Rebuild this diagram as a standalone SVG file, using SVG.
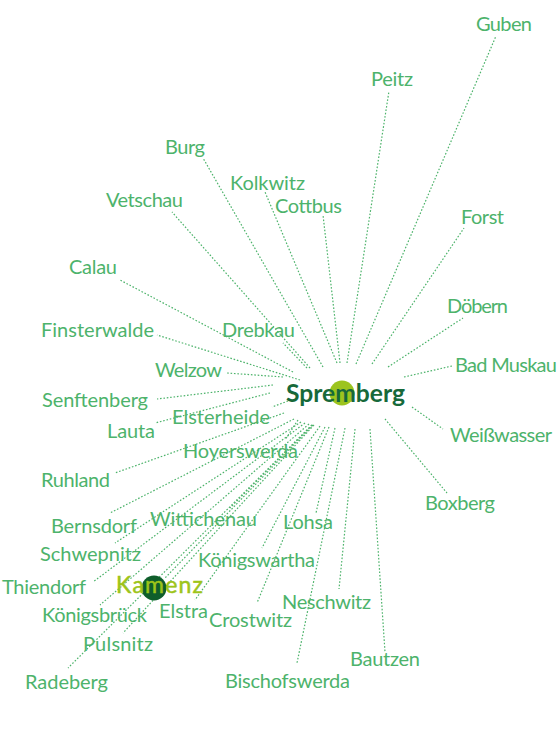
<svg xmlns="http://www.w3.org/2000/svg" width="557" height="736" viewBox="0 0 557 736">
<style>
.t{font-family:Lato,"Open Sans",sans-serif;font-size:20px;fill:#4db36b}
.c line{stroke:#4db36b;stroke-width:1.2;stroke-dasharray:1.6 1.8;fill:none}
</style>
<rect width="557" height="736" fill="#fff"/>
<g class="c" id="connectors">
<line x1="356" y1="364" x2="496" y2="36"/>
<line x1="347" y1="363" x2="389" y2="91"/>
<line x1="372" y1="364" x2="464" y2="228"/>
<line x1="388" y1="367" x2="463" y2="318"/>
<line x1="404" y1="377" x2="452" y2="366"/>
<line x1="412" y1="407" x2="443" y2="429"/>
<line x1="385" y1="419" x2="447" y2="493"/>
<line x1="370" y1="429" x2="385" y2="652"/>
<line x1="355" y1="429" x2="339" y2="589"/>
<line x1="345" y1="428" x2="297" y2="663"/>
<line x1="340" y1="363" x2="323" y2="215"/>
<line x1="337" y1="363" x2="265" y2="192"/>
<line x1="323" y1="367" x2="203" y2="158"/>
<line x1="310" y1="368" x2="172" y2="212"/>
<line x1="293" y1="372" x2="120" y2="280"/>
<line x1="307" y1="368" x2="283" y2="343"/>
<line x1="300" y1="380" x2="157" y2="335"/>
<line x1="283" y1="377" x2="227" y2="373"/>
<line x1="273" y1="385" x2="157" y2="399"/>
<line x1="270" y1="393" x2="155" y2="423"/>
<line x1="288" y1="401" x2="272" y2="407"/>
<line x1="284" y1="413" x2="115" y2="473"/>
<line x1="298" y1="420" x2="285" y2="440"/>
<line x1="294" y1="419" x2="110" y2="513"/>
<line x1="301" y1="422" x2="115" y2="543"/>
<line x1="305" y1="423" x2="93" y2="582"/>
<line x1="309" y1="424" x2="100" y2="605"/>
<line x1="312" y1="425" x2="68" y2="668"/>
<line x1="314" y1="425" x2="123" y2="633"/>
<line x1="313" y1="425" x2="165" y2="578"/>
<line x1="320" y1="426" x2="195" y2="600"/>
<line x1="312" y1="425" x2="230" y2="508"/>
<line x1="329" y1="427" x2="257" y2="603"/>
<line x1="325" y1="427" x2="262" y2="548"/>
<line x1="335" y1="428" x2="316" y2="513"/>
</g>
<g id="spremberg">
<circle cx="342" cy="393" r="12.5" fill="#9cc41e"/>
<text x="286" y="402" style="font-family:Lato,'Open Sans',sans-serif;font-weight:bold;font-size:24.5px;fill:#17693a" textLength="119" lengthAdjust="spacingAndGlyphs">Spremberg</text>
</g>
<g id="kamenz">
<circle cx="154" cy="588" r="12.5" fill="#0f5e2b"/>
<text x="116" y="593" style="font-family:Lato,'Open Sans',sans-serif;font-size:23px;fill:#9dc41a;stroke:#9dc41a;stroke-width:0.5" textLength="87">Kamenz</text>
</g>
<g id="guben"><text class="t" x="476" y="31" textLength="56">Guben</text></g>
<g id="peitz"><text class="t" x="371" y="86" textLength="42">Peitz</text></g>
<g id="burg"><text class="t" x="165" y="154" textLength="40">Burg</text></g>
<g id="kolkwitz"><text class="t" x="230" y="190" textLength="75">Kolkwitz</text></g>
<g id="cottbus"><text class="t" x="275" y="213" textLength="67">Cottbus</text></g>
<g id="vetschau"><text class="t" x="106" y="207" textLength="77">Vetschau</text></g>
<g id="forst"><text class="t" x="461" y="224" textLength="43">Forst</text></g>
<g id="calau"><text class="t" x="69" y="274" textLength="48">Calau</text></g>
<g id="doebern"><text class="t" x="447" y="313" textLength="61">Döbern</text></g>
<g id="finsterwalde"><text class="t" x="41" y="337" textLength="113">Finsterwalde</text></g>
<g id="drebkau"><text class="t" x="222" y="337" textLength="73">Drebkau</text></g>
<g id="badmuskau"><text class="t" x="455" y="372" textLength="102">Bad Muskau</text></g>
<g id="welzow"><text class="t" x="155" y="377" textLength="67">Welzow</text></g>
<g id="senftenberg"><text class="t" x="42" y="407" textLength="106">Senftenberg</text></g>
<g id="elsterheide"><text class="t" x="172" y="424" textLength="98">Elsterheide</text></g>
<g id="lauta"><text class="t" x="107" y="438" textLength="48">Lauta</text></g>
<g id="weisswasser"><text class="t" x="450" y="442" textLength="102">Weißwasser</text></g>
<g id="hoyerswerda"><text class="t" x="183" y="458" textLength="115">Hoyerswerda</text></g>
<g id="ruhland"><text class="t" x="41" y="487" textLength="69">Ruhland</text></g>
<g id="boxberg"><text class="t" x="425" y="510" textLength="70">Boxberg</text></g>
<g id="bernsdorf"><text class="t" x="51" y="533" textLength="86">Bernsdorf</text></g>
<g id="wittichenau"><text class="t" x="150" y="526" textLength="107">Wittichenau</text></g>
<g id="lohsa"><text class="t" x="283" y="529" textLength="50">Lohsa</text></g>
<g id="schwepnitz"><text class="t" x="40" y="561" textLength="101">Schwepnitz</text></g>
<g id="koenigswartha"><text class="t" x="198" y="567" textLength="117">Königswartha</text></g>
<g id="thiendorf"><text class="t" x="2" y="594" textLength="84">Thiendorf</text></g>
<g id="koenigsbrueck"><text class="t" x="42" y="622" textLength="105">Königsbrück</text></g>
<g id="elstra"><text class="t" x="159" y="618" textLength="49">Elstra</text></g>
<g id="crostwitz"><text class="t" x="209" y="627" textLength="83">Crostwitz</text></g>
<g id="neschwitz"><text class="t" x="282" y="609" textLength="89">Neschwitz</text></g>
<g id="pulsnitz"><text class="t" x="83" y="651" textLength="70">Pulsnitz</text></g>
<g id="bautzen"><text class="t" x="350" y="666" textLength="70">Bautzen</text></g>
<g id="radeberg"><text class="t" x="25" y="689" textLength="83">Radeberg</text></g>
<g id="bischofswerda"><text class="t" x="225" y="688" textLength="125">Bischofswerda</text></g>
</svg>
